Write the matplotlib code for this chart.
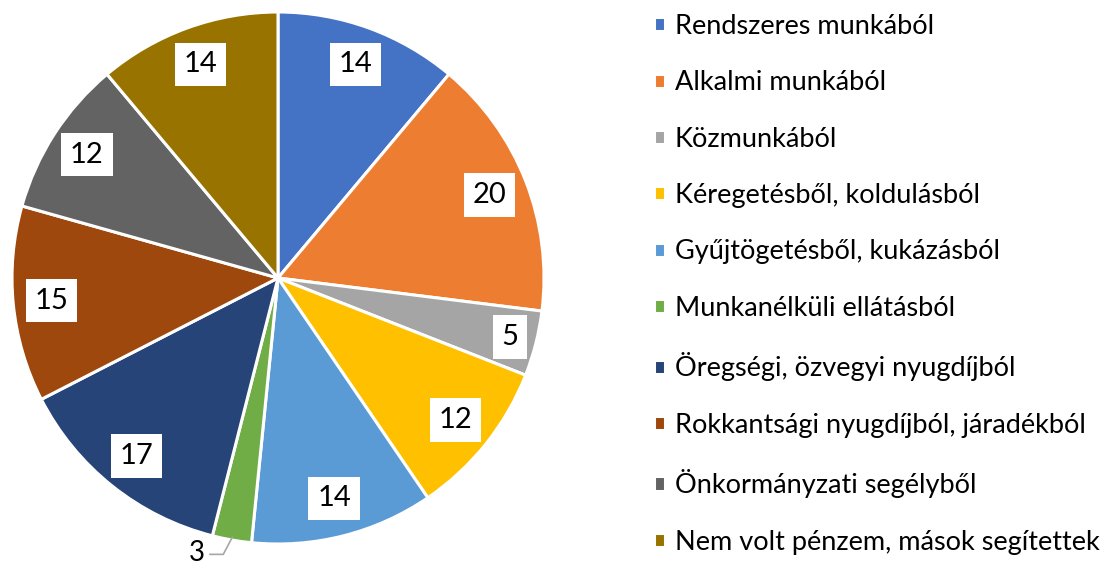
import numpy as np
import matplotlib.pyplot as plt

labels = ["Rendszeres munkából", "Alkalmi munkából", "Közmunkából",
          "Kéregetésből, koldulásból", "Gyűjtögetésből, kukázásból",
          "Munkanélküli ellátásból", "Öregségi, özvegyi nyugdíjból",
          "Rokkantsági nyugdíjból, járadékból", "Önkormányzati segélyből",
          "Nem volt pénzem, mások segítettek"]
values = [14, 20, 5, 12, 14, 3, 17, 15, 12, 14]
colors = ["#4472C4", "#ED7D31", "#A5A5A5", "#FFC000", "#5B9BD5",
          "#70AD47", "#264478", "#9E480E", "#636363", "#997300"]

plt.rcParams['font.family'] = ['Lato', 'DejaVu Sans']

fig = plt.figure(figsize=(11.05, 5.67), dpi=100)
ax = fig.add_axes([12 / 1105, 23 / 567, 532 / 1105, 532 / 567])

wedges, _ = ax.pie(values, colors=colors, startangle=90, counterclock=False,
                   radius=1.0, wedgeprops=dict(edgecolor="white", linewidth=2.2))
ax.set_xlim(-1, 1)
ax.set_ylim(-1, 1)
ax.set_aspect("equal")
ax.axis("off")

total = float(sum(values))
cum = 0.0
for i, v in enumerate(values):
    mid = (cum + v / 2) / total * 2 * np.pi
    cum += v
    sx, sy = np.sin(mid), np.cos(mid)
    if v <= 3:
        # small slice: label outside with a leader line
        p0 = (sx * 0.99, sy * 0.99)
        p1 = (sx * 1.07 - 0.02, sy * 1.055)
        p2 = (p1[0] - 0.05, p1[1])
        ax.plot([p0[0], p1[0], p2[0]], [p0[1], p1[1], p2[1]],
                color="#a6a6a6", lw=1.2, clip_on=False)
        ax.text(p2[0] - 0.02, p2[1] + 0.005, str(v), ha="right", va="center",
                fontsize=20, color="black")
        continue
    r = 0.9 if v <= 5 else 0.855
    ax.text(sx * r, sy * r, str(v), ha="center", va="center", fontsize=21,
            color="black",
            bbox=dict(boxstyle="square,pad=0.3", fc="white", ec="none"))

fig.legend(wedges, labels, loc="upper left", bbox_to_anchor=(643 / 1105, 1 - 3 / 567),
           frameon=False, fontsize=19.5, handlelength=0.42, handleheight=0.42,
           handletextpad=0.35, labelspacing=1.16, borderaxespad=0)

fig.savefig("out.png", dpi=100)
